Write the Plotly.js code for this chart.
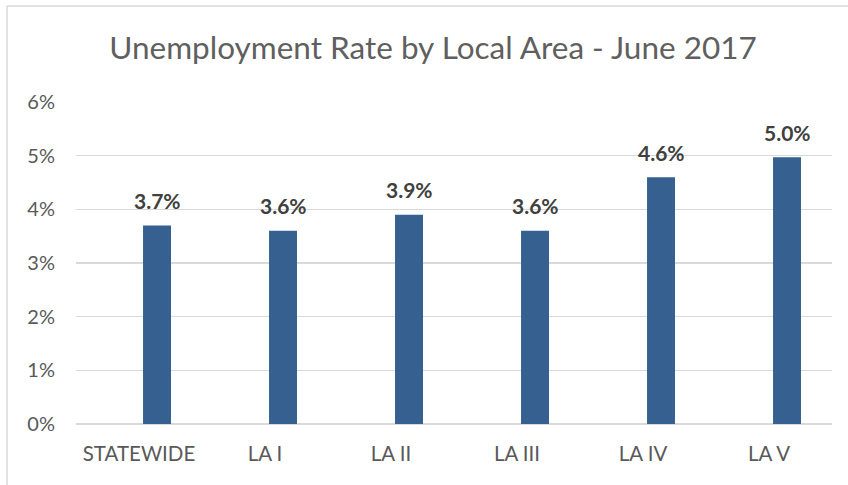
<!DOCTYPE html>
<html>
<head>
<meta charset="utf-8">
<script src="https://cdn.plot.ly/plotly-3.0.1.min.js"></script>
<style>html,body{margin:0;padding:0;background:#fff;}#chart{width:848px;height:485px;}</style>
</head>
<body>
<div id="chart"></div>
<script>
const categories = ["STATEWIDE", "LA I", "LA II", "LA III", "LA IV", "LA V"];
const rates = [3.7, 3.6, 3.9, 3.6, 4.6, 4.97];
const yTickValues = [0, 1, 2, 3, 4, 5, 6];
const yTickLabels = ["0%", "1%", "2%", "3%", "4%", "5%", "6%"];
const chartTitle = "Unemployment Rate by Local Area - June 2017";

const FONT = "Lato, 'Open Sans', sans-serif";

const trace = {
  type: "bar",
  x: categories,
  y: rates,
  width: 0.222,
  offset: 0.032,
  marker: {color: "#35608F"},
  hoverinfo: "skip"
};

const annotations = categories.map((c, i) => ({
  x: c,
  y: rates[i],
  xref: "x",
  yref: "y",
  text: rates[i].toFixed(1) + "%",
  showarrow: false,
  xshift: 18,
  yshift: 25,
  yanchor: "middle",
  font: {family: FONT, size: 21, color: "#404040", weight: "bold"}
}));

const layout = {
  width: 848,
  height: 485,
  margin: {l: 76, r: 16, t: 102, b: 61},
  paper_bgcolor: "#ffffff",
  plot_bgcolor: "#ffffff",
  showlegend: false,
  title: {
    text: chartTitle,
    font: {family: FONT, size: 31.5, color: "#5f5f5f"},
    x: 433 / 848,
    xanchor: "center",
    y: 1 - 48 / 485,
    yanchor: "middle"
  },
  xaxis: {
    type: "category",
    showgrid: false,
    showline: false,
    ticks: "",
    ticklabelstandoff: 15,
    tickfont: {family: FONT, size: 20.5, color: "#595959"},
    fixedrange: true
  },
  yaxis: {
    range: [0, 6],
    tickvals: yTickValues,
    ticktext: yTickLabels,
    showgrid: true,
    gridcolor: "#D9D9D9",
    gridwidth: 1.5,
    zeroline: true,
    zerolinecolor: "#D9D9D9",
    zerolinewidth: 1.5,
    showline: false,
    ticks: "",
    ticklabelstandoff: 20,
    tickfont: {family: FONT, size: 20, color: "#595959"},
    fixedrange: true
  },
  annotations: annotations,
  shapes: [
    {type: "line", xref: "paper", yref: "paper",
     x0: (7 - 76) / 756, x1: 1.2, y0: (424 - 6) / 322, y1: (424 - 6) / 322,
     line: {color: "#D9D9D9", width: 1.5}},
    {type: "line", xref: "paper", yref: "paper",
     x0: (7 - 76) / 756, x1: (7 - 76) / 756, y0: -0.5, y1: (424 - 6) / 322,
     line: {color: "#D9D9D9", width: 1.5}}
  ]
};

Plotly.newPlot("chart", [trace], layout, {displayModeBar: false, staticPlot: true});
</script>
</body>
</html>
